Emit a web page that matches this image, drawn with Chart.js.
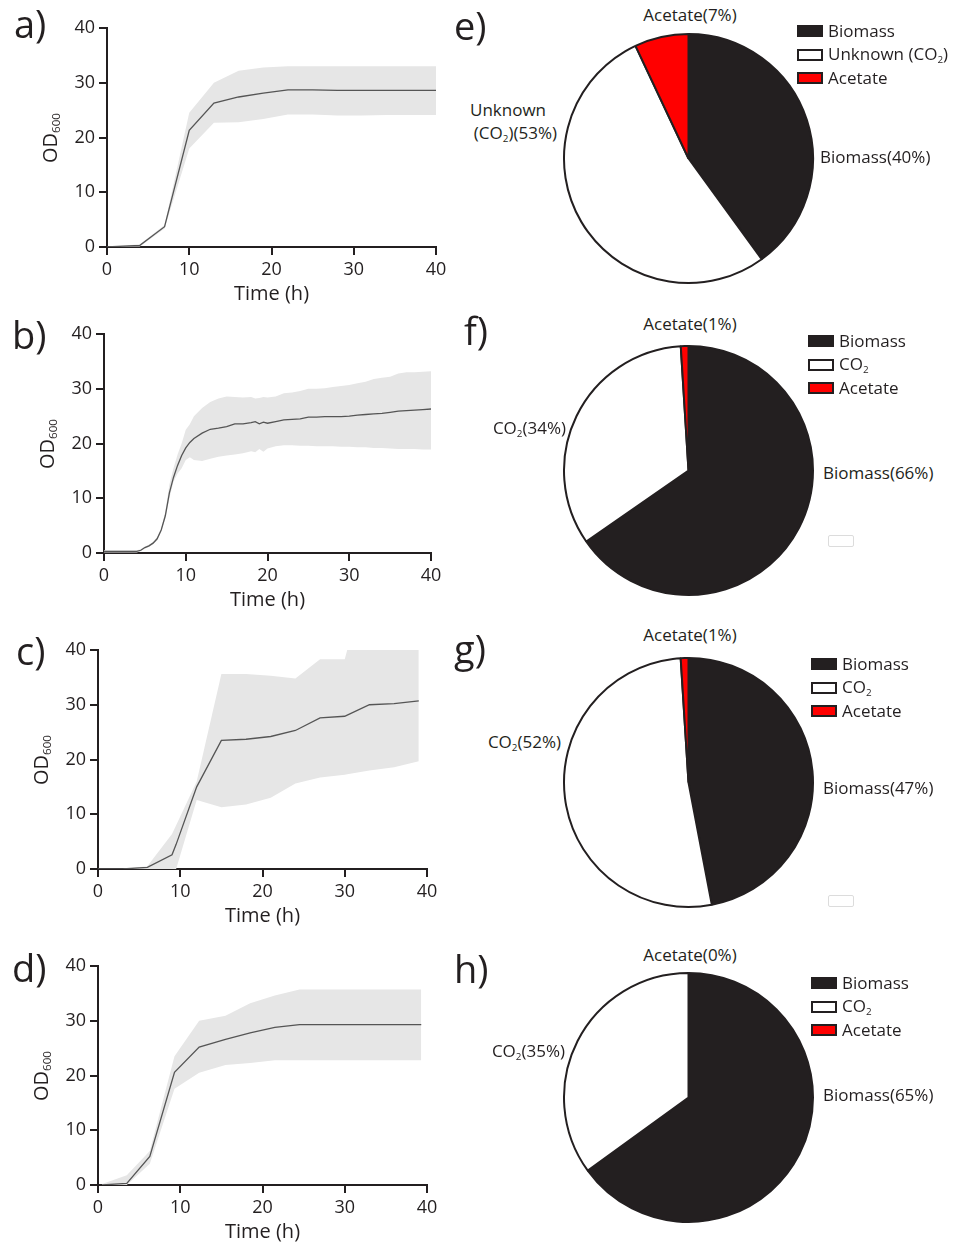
<!DOCTYPE html>
<html>
<head>
<meta charset="utf-8">
<script src="https://cdn.jsdelivr.net/npm/chart.js@4/dist/chart.umd.min.js"></script>
<style>
  body { margin: 0; background: #fff; width: 960px; height: 1245px; position: relative; overflow: hidden;
         font-family: "Open Sans", sans-serif; color: #231f20; }
  canvas { position: absolute; }
  .t { position: absolute; white-space: nowrap; line-height: 1; }
  sub { font-size: 58%; vertical-align: -0.3em; line-height: 0; }
  .box { position: absolute; width: 22px; height: 8px; border: 2px solid #231f20; }
  .ghost { position: absolute; width: 24px; height: 10px; border: 1px solid #dcdcdc; border-radius: 2px; }
</style>
</head>
<body>
<script>
// ---- growth curves (OD600 vs time) ----
const axisTicks = [0, 10, 20, 30, 40];

const timeA = [0, 4, 7, 10, 13, 16, 19, 22, 25, 28, 31, 34, 37, 40];
const odA   = [0, 0.3, 3.7, 21.3, 26.3, 27.4, 28.1, 28.7, 28.7, 28.6, 28.6, 28.6, 28.6, 28.6];
const hiA   = [0, 0.5, 4.0, 24.5, 30.0, 32.2, 32.8, 33.0, 33.0, 33.0, 33.0, 33.0, 33.0, 33.0];
const loA   = [0, 0.1, 3.4, 18.0, 22.7, 22.8, 23.4, 24.2, 24.2, 24.0, 24.0, 24.1, 24.1, 24.1];

const timeB = [0, 1, 2, 3, 4, 4.5, 5, 5.5, 6, 6.5, 7, 7.5, 8, 8.5, 9, 9.5, 10, 10.5, 11, 12, 13, 14, 15, 16,
               17, 18, 18.5, 19, 19.5, 20, 21, 22, 23, 24, 25, 26, 27, 28, 29, 30, 31, 32, 33, 34, 35, 36, 37, 38, 39, 40];
const odB   = [0.3, 0.3, 0.3, 0.3, 0.3, 0.5, 1.0, 1.3, 1.8, 2.6, 4.2, 6.8, 11.0, 13.8, 16.0, 17.8, 19.2, 20.2, 20.9, 21.9, 22.6, 22.8, 23.1, 23.6,
               23.6, 23.8, 24.0, 23.6, 23.9, 23.7, 24.0, 24.3, 24.4, 24.5, 24.8, 24.8, 24.9, 24.9, 24.9, 25.0, 25.2, 25.3, 25.4, 25.5, 25.7, 25.9, 26.0, 26.1, 26.2, 26.3];
const hiB   = [0.5, 0.5, 0.5, 0.5, 0.5, 0.7, 1.2, 1.5, 2.0, 2.9, 4.5, 7.5, 12.5, 15.5, 18.0, 20.0, 22.5, 23.5, 25.0, 26.5, 27.6, 28.2, 28.6, 28.5,
               28.4, 28.5, 28.2, 28.3, 28.5, 28.4, 28.6, 29.2, 29.3, 29.6, 30.0, 30.0, 30.1, 30.3, 30.5, 30.7, 31.0, 31.3, 31.8, 32.0, 32.2, 32.8, 33.0, 33.0, 33.1, 33.2];
const loB   = [0.1, 0.1, 0.1, 0.1, 0.1, 0.3, 0.8, 1.1, 1.6, 2.3, 4.0, 6.3, 10.0, 13.0, 14.5, 15.5, 17.0, 17.5, 17.0, 16.8, 17.2, 17.6, 17.8, 18.0,
               18.2, 18.6, 18.4, 19.0, 18.5, 19.1, 19.5, 19.7, 19.7, 19.6, 19.6, 19.5, 19.5, 19.5, 19.4, 19.4, 19.3, 19.3, 19.2, 19.2, 19.1, 19.0, 19.0, 19.0, 18.9, 18.9];

const timeC = [0, 3, 6, 9, 9.5, 12, 15, 18, 21, 24, 27, 30, 30.3, 33, 36, 39];
const odC   = [0, 0, 0.3, 2.6, 4.5, 15.0, 23.5, 23.7, 24.2, 25.3, 27.6, 27.9, 28.1, 30.0, 30.2, 30.7];
const hiC   = [0, 0, 0.5, 6.4, 8.0, 16.0, 35.6, 35.6, 35.3, 34.8, 38.3, 38.3, 40.0, 40.0, 40.0, 40.0];
const loC   = [0, 0, 0, 0, 0, 12.6, 11.3, 11.8, 13.0, 15.6, 16.7, 17.2, 17.3, 18.0, 18.6, 19.7];

const timeD = [0.5, 3.5, 6.3, 9.3, 12.3, 15.5, 18.5, 21.5, 24.5, 27.5, 30.5, 33.5, 36.5, 39.3];
const odD   = [0, 0.3, 5.2, 20.6, 25.2, 26.6, 27.8, 28.8, 29.3, 29.3, 29.3, 29.3, 29.3, 29.3];
const hiD   = [0.2, 1.8, 6.2, 23.5, 30.0, 30.9, 33.2, 34.6, 35.7, 35.7, 35.7, 35.7, 35.7, 35.7];
const loD   = [0, 0, 3.9, 17.6, 20.5, 21.9, 22.3, 22.8, 22.8, 22.8, 22.8, 22.8, 22.8, 22.8];

// ---- carbon balance pies ----
const labelsE = ['Biomass', 'Unknown (CO2)', 'Acetate'];
const labelsCO2 = ['Biomass', 'CO2', 'Acetate'];
const shareE = [40, 53, 7];
const shareF = [66, 34, 1];
const shareG = [47, 52, 1];
const shareH = [65, 35, 0];
const sliceColors = ['#231f20', '#ffffff', '#ff0000'];

const ink = '#231f20';
const fontFamily = '"Open Sans", sans-serif';

function txt(x, yMid, html, size, align) {
  const d = document.createElement('div');
  d.className = 't';
  d.innerHTML = html;
  d.style.fontSize = size + 'px';
  d.style.left = x + 'px';
  d.style.top = (yMid - 0.531 * size) + 'px';
  if (align === 'center') d.style.transform = 'translateX(-50%)';
  if (align === 'right') d.style.transform = 'translateX(-100%)';
  document.body.appendChild(d);
  return d;
}

function letter(x, baseline, s) {
  const d = document.createElement('div');
  d.className = 't';
  d.textContent = s;
  d.style.fontSize = '38px';
  d.style.left = x + 'px';
  d.style.top = (baseline - 0.888 * 38) + 'px';
  document.body.appendChild(d);
}

const sub2 = s => s.replace('CO2', 'CO<sub>2</sub>');
const pts = (xs, ys) => xs.map((x, i) => ({ x: x, y: ys[i] }));

function growthChart(p) {
  const w = 460, h = 320, plotH = 219;
  const cv = document.createElement('canvas');
  cv.width = w; cv.height = h;
  cv.style.left = '0px';
  cv.style.top = (p.top - 28) + 'px';
  document.body.appendChild(cv);

  const axisStyle = {
    min: 0, max: 40,
    afterBuildTicks: s => { s.ticks = axisTicks.map(v => ({ value: v })); },
    border: { display: true, color: ink, width: 2 },
    grid: { display: true, drawOnChartArea: false, drawTicks: true, tickLength: 8, color: ink, lineWidth: 2 },
  };

  new Chart(cv, {
    type: 'line',
    data: {
      datasets: [
        { data: pts(p.t, p.mean), borderColor: '#555555', borderWidth: 1.3, pointRadius: 0, fill: false, order: 0 },
        { data: pts(p.t, p.hi), borderWidth: 0, borderColor: 'rgba(0,0,0,0)', pointRadius: 0, backgroundColor: '#e6e6e6', fill: '+1', order: 1 },
        { data: pts(p.t, p.lo), borderWidth: 0, borderColor: 'rgba(0,0,0,0)', pointRadius: 0, fill: false, order: 1 }
      ]
    },
    options: {
      responsive: false,
      animation: false,
      events: [],
      layout: { padding: { top: 28, left: 0, right: w - p.right, bottom: 0 } },
      plugins: { legend: { display: false }, tooltip: { enabled: false } },
      scales: {
        x: Object.assign({}, axisStyle, {
          type: 'linear',
          afterFit: s => { s.height = h - 28 - plotH; },
          ticks: { color: ink, font: { family: fontFamily, size: 18 }, padding: 4, maxRotation: 0 },
          title: { display: true, text: 'Time (h)', color: ink, font: { family: fontFamily, size: 20 }, padding: { top: 0, bottom: 14 } }
        }),
        y: Object.assign({}, axisStyle, {
          afterFit: s => { s.width = p.left; },
          ticks: { color: ink, font: { family: fontFamily, size: 18 }, padding: 4 }
        })
      }
    }
  });

  // rotated y title with subscript
  const d = document.createElement('div');
  d.className = 't';
  d.innerHTML = 'OD<sub>600</sub>';
  d.style.fontSize = '20px';
  d.style.left = (p.left - 57) + 'px';
  d.style.top = (p.top + plotH / 2) + 'px';
  d.style.transform = 'translate(-50%,-50%) rotate(-90deg)';
  document.body.appendChild(d);

  letter(p.letterX, p.letterBase, p.letter);
}

function pieChart(p) {
  const size = 253;
  const cv = document.createElement('canvas');
  cv.width = size; cv.height = size;
  cv.style.left = (688 - size / 2) + 'px';
  cv.style.top = (p.cy - size / 2) + 'px';
  document.body.appendChild(cv);

  const chart = new Chart(cv, {
    type: 'pie',
    data: {
      labels: p.labels,
      datasets: [{ data: p.share, backgroundColor: sliceColors, borderColor: ink, borderWidth: 2 }]
    },
    options: {
      responsive: false,
      animation: false,
      events: [],
      layout: { padding: 1 },
      plugins: { legend: { display: false }, tooltip: { enabled: false } }
    }
  });

  // legend built from the chart's own labels and colours
  chart.data.labels.forEach((lab, i) => {
    const y = p.legY + i * 23.5;
    const b = document.createElement('div');
    b.className = 'box';
    b.style.left = p.legX + 'px';
    b.style.top = (y - 6) + 'px';
    b.style.background = chart.data.datasets[0].backgroundColor[i];
    document.body.appendChild(b);
    txt(p.legX + 31, y, sub2(lab), 17);
  });

  // slice labels
  const v = chart.data.datasets[0].data;
  const n = chart.data.labels;
  txt(690, p.cy + p.acY, n[2] + '(' + v[2] + '%)', 17, 'center');
  txt(p.bioX, p.cy + p.bioY, n[0] + '(' + v[0] + '%)', 17);
  if (p.twoLine) {
    txt(508, p.cy - 48, 'Unknown', 17, 'center');
    txt(557, p.cy - 25, '(CO<sub>2</sub>)(' + v[1] + '%)', 17, 'right');
  } else {
    txt(p.co2X, p.cy + p.co2Y, sub2(n[1]) + '(' + v[1] + '%)', 17, 'right');
  }
  letter(p.letterX, p.letterBase, p.letter);
}

growthChart({ t: timeA, mean: odA, hi: hiA, lo: loA, left: 107, right: 436, top: 28, letter: 'a)', letterX: 14, letterBase: 38 });
growthChart({ t: timeB, mean: odB, hi: hiB, lo: loB, left: 104, right: 431, top: 334, letter: 'b)', letterX: 12, letterBase: 349 });
growthChart({ t: timeC, mean: odC, hi: hiC, lo: loC, left: 98, right: 427, top: 650, letter: 'c)', letterX: 16, letterBase: 665 });
growthChart({ t: timeD, mean: odD, hi: hiD, lo: loD, left: 98, right: 427, top: 966, letter: 'd)', letterX: 12, letterBase: 982 });

pieChart({ labels: labelsE, share: shareE, cy: 158, legX: 797, legY: 31, acY: -143, bioX: 820, bioY: -1, twoLine: true,
           letter: 'e)', letterX: 454, letterBase: 40 });
pieChart({ labels: labelsCO2, share: shareF, cy: 470, legX: 808, legY: 341, acY: -146, bioX: 823, bioY: 3, co2X: 566, co2Y: -42,
           letter: 'f)', letterX: 464, letterBase: 345 });
pieChart({ labels: labelsCO2, share: shareG, cy: 782.5, legX: 811, legY: 664, acY: -147.5, bioX: 823, bioY: 5.5, co2X: 561, co2Y: -40,
           letter: 'g)', letterX: 454, letterBase: 663 });
pieChart({ labels: labelsCO2, share: shareH, cy: 1097.5, legX: 811, legY: 983, acY: -142.5, bioX: 823, bioY: -2.5, co2X: 565, co2Y: -46,
           letter: 'h)', letterX: 454, letterBase: 983 });

// faint empty frames left in the figure
[[828, 535], [828, 895]].forEach(([x, y]) => {
  const g = document.createElement('div');
  g.className = 'ghost';
  g.style.left = x + 'px';
  g.style.top = y + 'px';
  document.body.appendChild(g);
});
</script>
</body>
</html>
